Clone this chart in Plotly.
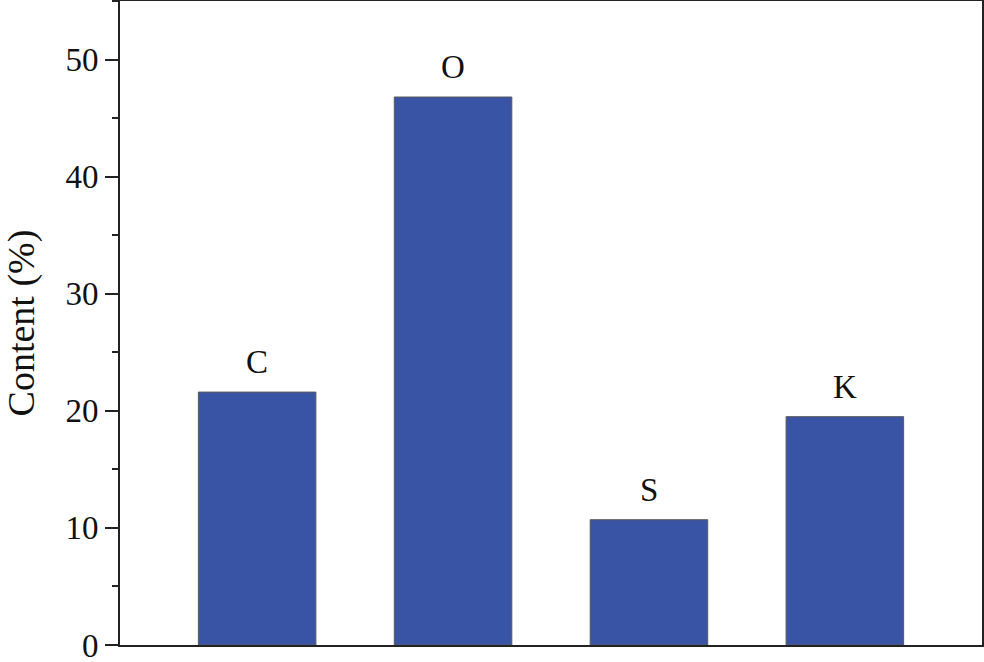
import plotly.graph_objects as go

elements = ["C", "O", "S", "K"]
content = [21.6, 46.8, 10.7, 19.5]
y_ticks = [0, 10, 20, 30, 40, 50]

fig = go.Figure()
fig.add_trace(go.Bar(
    x=list(range(len(elements))),
    y=content,
    width=0.6,
    marker=dict(color="#3A54A5", line=dict(color="#5a5a5a", width=1)),
    showlegend=False,
    hoverinfo="skip",
))

for i, (lab, v) in enumerate(zip(elements, content)):
    fig.add_annotation(x=i, y=v, text=lab, showarrow=False, yanchor="bottom",
                       yshift=10, font=dict(family="Liberation Serif", size=33, color="#111"))

fig.update_layout(
    width=984, height=662,
    margin=dict(l=120, r=2, t=1, b=17),
    plot_bgcolor="white", paper_bgcolor="white",
    font=dict(family="Liberation Serif", size=33, color="#111"),
    bargap=0.4,
)
fig.update_xaxes(
    range=[-0.7, 3.7], showticklabels=False, ticks="",
    showline=True, linecolor="#222", linewidth=2, mirror=True,
    showgrid=False, zeroline=False, fixedrange=True, automargin=False,
)
fig.update_yaxes(
    range=[0, 55], tickvals=y_ticks, ticks="outside", ticklen=13, tickwidth=2,
    tickcolor="#222", ticklabeloverflow="allow", automargin=False,
    minor=dict(dtick=5, tick0=0, ticks="outside", ticklen=6, tickwidth=2, tickcolor="#222"),
    showline=True, linecolor="#222", linewidth=2, mirror=True,
    showgrid=False, zeroline=False,
    title=dict(text="Content (%)", standoff=22, font=dict(size=38)),
    tickfont=dict(size=33),
)

fig.write_html("out.html", config={"displayModeBar": False},
               post_script="document.body.style.margin='0px';")
